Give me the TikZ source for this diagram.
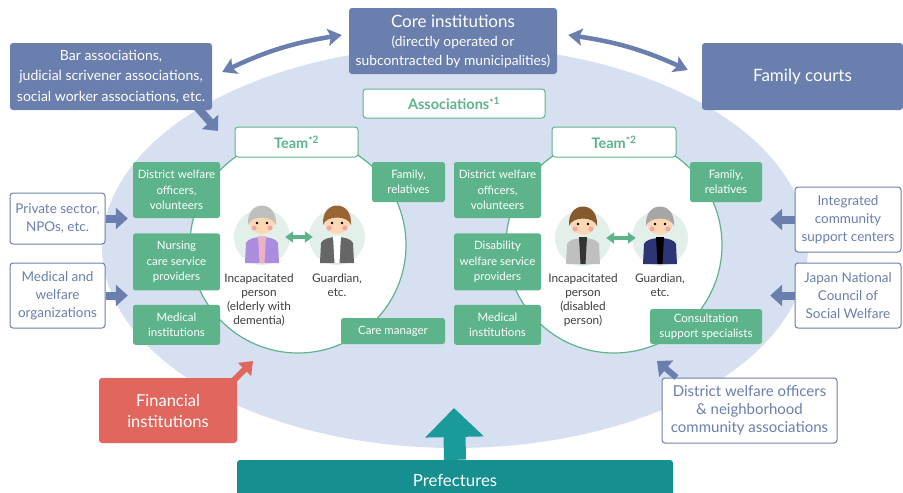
\documentclass[tikz,border=0pt]{standalone}
\usepackage{fontspec}
\setmainfont{Lato}
\usetikzlibrary{arrows.meta, positioning}

\definecolor{courtblue}{HTML}{6A7FAE}
\definecolor{fieldblue}{HTML}{D7E0F0}
\definecolor{teamgreen}{HTML}{5DB48B}
\definecolor{bankred}{HTML}{E0665E}
\definecolor{prefteal}{HTML}{168F8F}
\definecolor{arrowteal}{HTML}{1A9A9B}
\definecolor{mint}{HTML}{E3F0EA}
\definecolor{labelgray}{HTML}{3F3F3F}
\definecolor{skin}{HTML}{FBD7B3}
\definecolor{cheek}{HTML}{F4A5A5}

\newcommand{\notemark}[1]{\textsuperscript{\raisebox{-0.35ex}{*}#1}}

\tikzset{
  bluebox/.style={fill=courtblue, text=white, rounded corners=3pt, align=center, inner sep=0pt},
  outbox/.style={draw=courtblue, line width=1pt, fill=white, text=courtblue, rounded corners=3pt,
    align=center, inner sep=0pt, font=\fontsize{13.5}{18}\selectfont},
  greenbox/.style={fill=teamgreen, text=white, rounded corners=2.5pt, align=center, inner sep=0pt,
    font=\fontsize{11.5}{15.5}\selectfont},
  titlebox/.style={draw=teamgreen, line width=1pt, fill=white, text=teamgreen, rounded corners=3pt,
    inner sep=0pt, font=\bfseries\fontsize{14.5}{16}\selectfont},
  ring/.style={circle, draw=teamgreen, line width=1.2pt, fill=white, minimum size=216pt},
  persondisk/.style={circle, fill=mint, minimum size=56pt, inner sep=0pt},
  whoname/.style={text=labelgray, align=center, inner sep=0pt, font=\fontsize{11.8}{13.8}\selectfont},
  dblarrow/.style={courtblue, line width=4.5pt,
    {Stealth[width=17pt,length=14pt,inset=3pt]}-{Stealth[width=17pt,length=14pt,inset=3pt]}},
  blockarrow/.style={courtblue, line width=8pt, -{Triangle[width=21pt,length=12pt]}},
  pairarrow/.style={teamgreen, line width=3.5pt, {Triangle[width=11pt,length=8pt]}-{Triangle[width=11pt,length=8pt]}},
  pics/figure/.style n args={3}{code={
    \fill[#2] (-17,26) -- (-16,6) .. controls (-13,-2) and (13,-2) .. (16,6) -- (17,26) -- cycle;
    \fill[#3] (-4,-1) -- (4,-1) -- (2.5,26) -- (-2.5,26) -- cycle;
    \fill[skin] (0,-16) circle (13pt);
    \fill[#1] (-14,-12) .. controls (-16,-38) and (16,-38) .. (14,-12)
      .. controls (11,-22) and (-11,-22) .. cycle;
    \fill[black] (-5,-14) circle (1.4pt) (5,-14) circle (1.4pt);
    \fill[cheek] (-8,-9) circle (2.5pt) (8,-9) circle (2.5pt);
  }}
}

\begin{document}
\begin{tikzpicture}[x=1pt, y=-1pt]
\useasboundingbox (0,0) rectangle (903,493);

% the field behind everything
\fill[fieldblue] (455,247) ellipse [x radius=353pt, y radius=201pt];

% top row
\node[bluebox, minimum width=208pt, minimum height=66pt, font=\fontsize{13.8}{19}\selectfont] (core) at (453,41)
  {{\fontsize{17}{19}\selectfont Core institutions}\\(directly operated or\\subcontracted by municipalities)};
\node[bluebox, minimum width=202pt, minimum height=67pt, font=\fontsize{14}{20.5}\selectfont] (bar) at (111,76.5)
  {Bar associations,\\judicial scrivener associations,\\social worker associations, etc.};
\node[bluebox, minimum width=201pt, minimum height=67pt, font=\fontsize{17}{20}\selectfont] (court) at (802.5,76.5)
  {Family courts};

\node[titlebox, minimum width=182pt, minimum height=29pt] (assoc) at (454,103.5) {Associations\notemark{1}};

% the two teams
\node[ring] (ringL) at (298,245) {};
\node[ring] (ringR) at (614,245) {};
\node[titlebox, minimum width=123pt, minimum height=30pt] (teamL) at (296.5,142) {Team\notemark{2}};
\node[titlebox, minimum width=124pt, minimum height=30pt] (teamR) at (614,142) {Team\notemark{2}};

\node[greenbox, minimum width=87pt, minimum height=56pt] (dwL) at (176.5,190) {District welfare\\officers,\\volunteers};
\node[greenbox, minimum width=87pt, minimum height=57pt, below=15pt of dwL] (nurse) {Nursing\\care service\\providers};
\node[greenbox, minimum width=87pt, minimum height=40pt, below=14pt of nurse] (medL) {Medical\\institutions};
\node[greenbox, minimum width=73pt, minimum height=40pt] (famL) at (408.5,182) {Family,\\relatives};
\node[greenbox, minimum width=104pt, minimum height=26pt] (care) at (393,331) {Care manager};

\node[greenbox, minimum width=87pt, minimum height=56pt] (dwR) at (497.5,190) {District welfare\\officers,\\volunteers};
\node[greenbox, minimum width=87pt, minimum height=57pt, below=15pt of dwR] (disab) {Disability\\welfare service\\providers};
\node[greenbox, minimum width=87pt, minimum height=40pt, below=14pt of disab] (medR) {Medical\\institutions};
\node[greenbox, minimum width=72pt, minimum height=40pt] (famR) at (726,182) {Family,\\relatives};
\node[greenbox, minimum width=112pt, minimum height=35pt] (consult) at (706,326.5) {Consultation\\support specialists};

% people
\node[persondisk] (elder) at (262,237) {};
\node[persondisk] (guardL) at (337,237) {};
\node[persondisk] (disabled) at (583,238) {};
\node[persondisk] (guardR) at (660,238) {};
\pic at (elder) {figure={black!25}{violet!55!blue!45!white}{purple!30}};
\pic at (guardL) {figure={brown!80!black}{black!60}{white}};
\pic at (disabled) {figure={brown!70!black}{black!25}{black!80}};
\pic at (guardR) {figure={black!35}{courtblue!70!blue!60!black}{black}};
\draw[pairarrow, shorten <=-5pt, shorten >=-4pt] (elder) -- (guardL);
\draw[pairarrow, shorten <=-5pt, shorten >=-4pt] (disabled) -- (guardR);

\node[whoname, anchor=north] (elderTxt) at (259,274) {Incapacitated\\person\\(elderly with\\dementia)};
\node[whoname, anchor=north] (guardLTxt) at (337,274) {Guardian,\\etc.};
\node[whoname, anchor=north] (disabledTxt) at (583,274) {Incapacitated\\person\\(disabled\\person)};
\node[whoname, anchor=north] (guardRTxt) at (660,274) {Guardian,\\etc.};

% outer supporters
\node[outbox, minimum width=95pt, minimum height=51pt] (priv) at (57.5,218.5) {Private sector,\\NPOs, etc.};
\node[outbox, minimum width=95pt, minimum height=65pt, below=18pt of priv] (medorg) {Medical and\\welfare\\organizations};
\node[outbox, minimum width=106pt, minimum height=65pt] (icsc) at (848,219.5) {Integrated\\community\\support centers};
\node[outbox, minimum width=106pt, minimum height=65pt, below=10pt of icsc] (jncsw) {Japan National\\Council of\\Social Welfare};
\node[outbox, minimum width=175pt, minimum height=65pt, font=\fontsize{15}{18}\selectfont] (dwo) at (749.5,410.5)
  {District welfare officers\\\& neighborhood\\community associations};
\node[fill=bankred, text=white, rounded corners=3pt, align=center, inner sep=0pt,
  minimum width=138pt, minimum height=65pt, font=\fontsize{16.5}{21}\selectfont] (fin) at (168,410.5)
  {Financial\\institutions};
\node[fill=prefteal, text=white, rounded corners=3pt, inner sep=0pt, minimum width=436pt, minimum height=40pt,
  font=\fontsize{16.8}{20}\selectfont] (pref) at (455,480) {Prefectures};

\coordinate (barTip) at (218,131);
\coordinate (finTip) at (253,361);
\coordinate (dwoTip) at (657,361);
\coordinate (prefTip) at (454,408);

% arrows
\draw[dblarrow] ([shift={(10,-4.5)}]bar.east) to[bend left=8] ([shift={(-7,-6)}]core.west);
\draw[dblarrow] ([shift={(11,-6)}]core.east) to[bend left=8] ([shift={(-14,-6.5)}]court.west);
\draw[blockarrow] ([shift={(-15,-3)}]bar.south east) -- (barTip);
\draw[blockarrow] (priv.east) -- (priv.east -| dwL.west) [shorten >=5pt];
\draw[blockarrow] (medorg.east) -- (medorg.east -| nurse.west) [shorten >=5pt];
\draw[blockarrow] (icsc.west) -- (icsc.west -| famR.east) [shorten >=8pt];
\draw[blockarrow] (jncsw.west) -- (jncsw.west -| consult.east) [shorten >=8pt];
\draw[blockarrow, line width=6pt] ([shift={(15,0)}]dwo.north west) -- (dwoTip);
\draw[bankred, line width=6pt, -{Triangle[width=18pt,length=12pt]}] ([shift={(-4,3)}]fin.north east) -- (finTip);
\draw[arrowteal, line width=22pt, -{Triangle[width=57pt,length=29pt]}] (pref.north) -- (prefTip);
\end{tikzpicture}
\end{document}
